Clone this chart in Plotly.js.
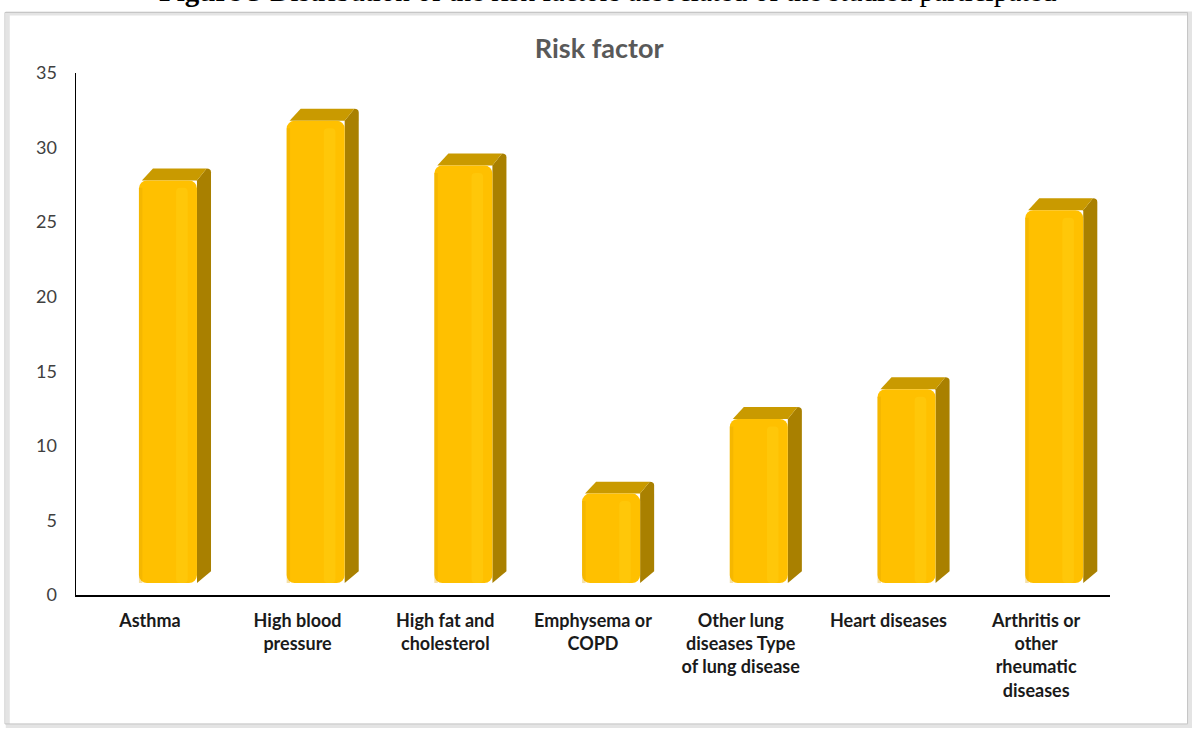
<!DOCTYPE html>
<html>
<head>
<meta charset="utf-8">
<script src="https://cdn.plot.ly/plotly-3.0.1.min.js"></script>
<style>
html,body{margin:0;padding:0;background:#fff;}
#chart{width:1195px;height:729px;}
</style>
</head>
<body>
<div id="chart"></div>
<script>
// ---- data ----
const categories = [
  "Asthma",
  "High blood<br>pressure",
  "High fat and<br>cholesterol",
  "Emphysema or<br>COPD",
  "Other lung<br>diseases Type<br>of lung disease",
  "Heart diseases",
  "Arthritis or<br>other<br>rheumatic<br>diseases"
];
const values = [27, 31, 28, 6, 11, 13, 25];
const yTicks = [0, 5, 10, 15, 20, 25, 30, 35];
const chartTitle = "Risk factor";
const caption = "<b>Figure 3</b> Distribution of the risk factors associated of the studied participated";

// ---- styling of the pseudo-3D bars ----
const idx = categories.map((c, i) => i);
const BASE = 0.8;      // floor lift of the 3D bars
const OFF = -0.074;    // front face left edge relative to category
const W = 0.393;       // front face width
const DX = 0.095;      // depth in x (data units)
const DY = 0.8;        // depth in y (data units)

const shapes = [];
values.forEach((v, i) => {
  const l = i + OFF, r = i + OFF + W, top = v + BASE;
  // side face
  shapes.push({
    type: 'path', xref: 'x', yref: 'y', layer: 'below',
    path: `M ${r},${BASE} L ${r + DX},${BASE + DY} L ${r + DX},${top + DY - 0.25} Q ${r + DX},${top + DY} ${r + DX - 0.03},${top + DY} L ${r},${top} Z`,
    fillcolor: '#A98000', line: {width: 0}
  });
  // top face
  shapes.push({
    type: 'path', xref: 'x', yref: 'y', layer: 'below',
    path: `M ${l + 0.02},${top} L ${l + DX},${top + DY} L ${r + DX - 0.03},${top + DY} L ${r},${top} Z`,
    fillcolor: '#C99A00', line: {width: 0}
  });
});

// chart-area border with soft shadow (paper coords)
shapes.push({type: 'rect', xref: 'paper', yref: 'paper', layer: 'below',
  x0: -0.0660, x1: 1.0774, y0: -0.2510, y1: 1.1140,
  line: {color: '#e4e4e4', width: 4}, fillcolor: 'rgba(0,0,0,0)'});
shapes.push({type: 'rect', xref: 'paper', yref: 'paper', layer: 'below',
  x0: -0.0687, x1: 1.0750, y0: -0.2470, y1: 1.1160,
  line: {color: '#c4c4c4', width: 1}, fillcolor: 'rgba(0,0,0,0)'});

const front = {
  type: 'bar', x: idx, y: values, base: BASE,
  offset: OFF, width: W,
  marker: {color: '#FFC000', cornerradius: 8, line: {width: 0}},
  hoverinfo: 'skip', showlegend: false
};
// soft highlight strip on the front face
const highlight = {
  type: 'bar', x: idx, y: values.map(v => v - 0.5), base: BASE,
  offset: OFF + W * 0.64, width: W * 0.2,
  marker: {color: 'rgba(255,215,30,0.3)', cornerradius: 4, line: {width: 0}},
  hoverinfo: 'skip', showlegend: false
};
// darker left edge
const edge = {
  type: 'bar', x: idx, y: values.map(v => v - 0.5), base: BASE,
  offset: OFF, width: W * 0.06,
  marker: {color: 'rgba(225,165,0,0.35)', line: {width: 0}},
  hoverinfo: 'skip', showlegend: false
};

const layout = {
  width: 1195, height: 729,
  margin: {l: 76, r: 85, t: 73, b: 134},
  paper_bgcolor: '#ffffff', plot_bgcolor: 'rgba(0,0,0,0)',
  barmode: 'overlay',
  showlegend: false,
  font: {family: 'Lato, "Open Sans", sans-serif', color: '#404040'},
  title: {
    text: chartTitle,
    x: 0.506, xanchor: 'center', xref: 'paper',
    y: 0.934, yanchor: 'middle', yref: 'container',
    font: {family: 'Lato, sans-serif', size: 27, color: '#595959', weight: 'bold'}
  },
  xaxis: {
    range: [-0.5, categories.length - 0.5],
    tickmode: 'array', tickvals: idx, ticktext: categories,
    showgrid: false, zeroline: false,
    showline: true, linecolor: '#000000', linewidth: 2,
    ticks: '', ticklabelstandoff: 8,
    tickfont: {family: 'Lato, sans-serif', size: 18, color: '#1a1a1a', weight: 'bold'},
    fixedrange: true
  },
  yaxis: {
    range: [0, 35],
    tickmode: 'array', tickvals: yTicks, ticktext: yTicks.map(String),
    showgrid: false, zeroline: false,
    showline: true, linecolor: '#000000', linewidth: 1.5,
    ticks: '', ticklabelstandoff: 14,
    tickfont: {family: 'Lato, sans-serif', size: 18, color: '#404040'},
    fixedrange: true
  },
  shapes: shapes,
  annotations: [{
    text: caption, showarrow: false,
    xref: 'paper', yref: 'paper',
    x: 0.5145, y: 1.1226, xanchor: 'center', yanchor: 'bottom',
    font: {family: '"Liberation Serif", "Times New Roman", serif', size: 29, color: '#000000'}
  }]
};

Plotly.newPlot('chart', [front, highlight, edge], layout, {staticPlot: true, displayModeBar: false});
</script>
</body>
</html>
